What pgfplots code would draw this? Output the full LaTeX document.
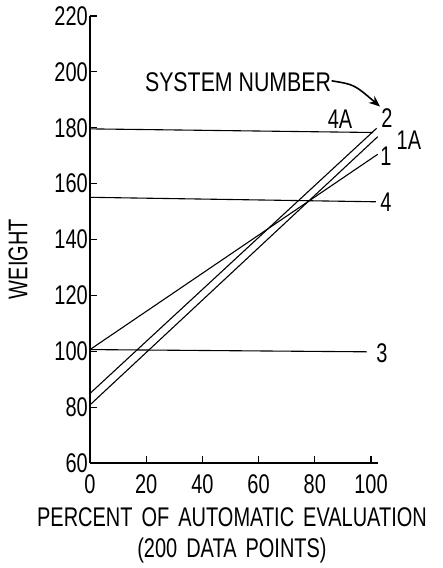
\documentclass[border=0pt]{standalone}
\usepackage{pgfplots}
\pgfplotsset{compat=1.18}
\usepackage{fontspec}
\setmainfont{Liberation Sans}[FakeStretch=0.74]
\newfontfamily\widefont{Liberation Sans}[FakeStretch=0.79]
\usetikzlibrary{arrows.meta}
\begin{document}
\begin{tikzpicture}[font=\fontsize{27}{31}\selectfont]
\begin{axis}[
  at={(0pt,0pt)}, anchor=south west,
  scale only axis, width=288pt, height=447pt,
  xmin=0, xmax=102.5, ymin=60, ymax=220,
  axis lines=left, axis line style={-, line width=1.5pt},
  xtick={0,20,40,60,80,100}, ytick={60,80,...,220},
  tick align=inside, major tick length=7pt,
  tick style={line width=1.2pt, black},
  /pgf/number format/assume math mode=true,
  xticklabel style={anchor=north, inner sep=0pt, yshift=-11pt},
  yticklabel style={anchor=east, inner sep=2pt},
  xlabel={PERCENT OF AUTOMATIC EVALUATION\\(200 DATA POINTS)},
  xlabel style={at={(axis description cs:0.493,0)}, anchor=center, yshift=-72pt, align=center, text width=430pt, inner sep=0pt},
  ylabel={WEIGHT},
  ylabel style={at={(axis description cs:-0.25,0.456)}, anchor=center},
  clip=false,
]
% 4A
\addplot[black, line width=1.1pt] coordinates {(0,179.6) (100.8,178.3)};
% 2
\addplot[black, line width=1.1pt] coordinates {(0,84.9) (102,179.8)};
% 1A
\addplot[black, line width=1.1pt] coordinates {(0,80.8) (102.4,176.8)};
% 1
\addplot[black, line width=1.1pt] coordinates {(0,100.6) (102.4,170.5)};
% 4
\addplot[black, line width=1.1pt] coordinates {(0,155.1) (101.7,153.5)};
% 3
\addplot[black, line width=1.1pt] coordinates {(0,100.6) (98.5,99.8)};
\node at (axis cs:105.7,183.5) {2};
\node at (axis cs:113.5,175.6) {1A};
\node at (axis cs:105.3,169.9) {1};
\node at (axis cs:105.3,153.4) {4};
\node at (axis cs:103.9,99.4) {3};
\node at (axis cs:89,183.1) {4A};
\node at (axis cs:52.7,196.4) {\widefont SYSTEM NUMBER};
\draw[line width=1.6pt, -{Stealth[length=11pt,width=9pt]}] (axis cs:86,196.8) .. controls (axis cs:94,195.5) .. (axis cs:103.2,187.6);
\end{axis}
\pgfresetboundingbox
\path[use as bounding box] (-90pt,-105pt) rectangle (353pt,463pt);
\end{tikzpicture}
\end{document}
